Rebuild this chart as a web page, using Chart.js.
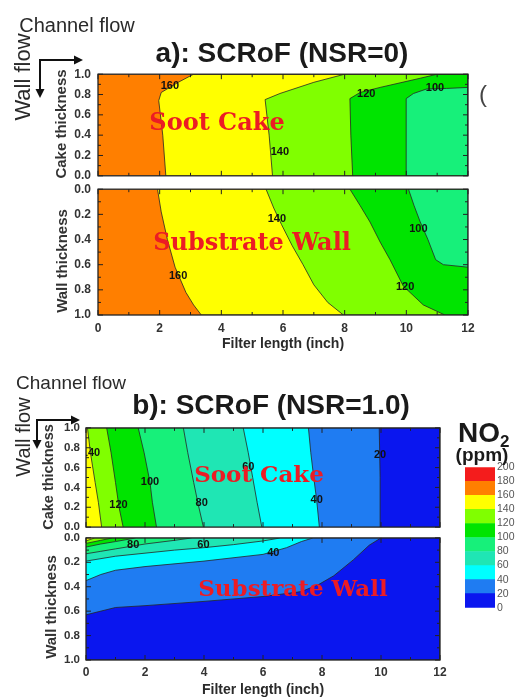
<!DOCTYPE html>
<html>
<head>
<meta charset="utf-8">
<title>SCRoF NO2 contours</title>
<script src="https://cdn.jsdelivr.net/npm/chart.js@4.4.1/dist/chart.umd.min.js"></script>
<style>
  html, body { margin:0; padding:0; background:#fff; }
  body { position:relative; width:519px; height:698px; overflow:hidden; font-family:"Liberation Sans", Arial, sans-serif; color:#1a1a1a; }
  canvas { position:absolute; }
  .abs { position:absolute; }
  .t { position:absolute; line-height:1; white-space:nowrap; transform:translate(-50%,-50%); }
  .rot { transform:translate(-50%,-50%) rotate(-90deg); }
  .ttl { font-weight:bold; font-size:28px; }
  .flow { font-size:20px; color:#2a2a2a; }
  .ytl { font-weight:bold; font-size:15px; color:#333; }
  .zone { font-family:"DejaVu Serif", serif; font-weight:bold; color:#ec1c24; }
</style>
</head>
<body>
<div id="plots"></div>

<svg class="abs" width="519" height="698" style="left:0;top:0">
  <g stroke="#111" stroke-width="2" fill="none">
    <path d="M40 90 V60 H75"/>
    <path d="M37 441 V420 H72"/>
  </g>
  <g fill="#111">
    <path d="M83 60 L74 55.5 L74 64.5Z"/>
    <path d="M40 98 L35.5 89 L44.5 89Z"/>
    <path d="M80 420 L71 415.5 L71 424.5Z"/>
    <path d="M37 449 L32.5 440 L41.5 440Z"/>
  </g>
</svg>

<div class="t flow" style="left:77px;top:25px">Channel flow</div>
<div class="t flow rot" style="left:23px;top:77px;font-size:22px">Wall flow</div>
<div class="t ttl" style="left:282px;top:53px">a): SCRoF (NSR=0)</div>
<div class="t" style="left:483px;top:94px;font-size:24px;color:#444">(</div>
<div class="t ytl rot" style="left:60px;top:124px">Cake thickness</div>
<div class="t ytl rot" style="left:61px;top:261px">Wall thickness</div>
<div class="t zone" style="left:217px;top:122px;font-size:24px">Soot Cake</div>
<div class="t zone" style="left:252px;top:242px;font-size:24px">Substrate Wall</div>

<div class="t flow" style="left:71px;top:382px;font-size:19px">Channel flow</div>
<div class="t flow rot" style="left:23px;top:437px;font-size:20px">Wall flow</div>
<div class="t ttl" style="left:271px;top:405px">b): SCRoF (NSR=1.0)</div>
<div class="t ytl rot" style="left:48px;top:477px;font-size:14.5px">Cake thickness</div>
<div class="t ytl rot" style="left:50px;top:607px">Wall thickness</div>
<div class="t zone" style="left:259px;top:473px;font-size:23px">Soot Cake</div>
<div class="t zone" style="left:293px;top:587px;font-size:23px">Substrate Wall</div>
<div class="abs" style="left:458px;top:419px;font-weight:bold;font-size:28px;line-height:1">NO<span style="font-size:17px;position:relative;top:5px">2</span></div>
<div class="t" style="left:482px;top:454px;font-weight:bold;font-size:19px">(ppm)</div>

<script>
// ========== Data ==========
// NO2 bands (ppm) and the colour of each band, low to high
const levels = [0, 20, 40, 60, 80, 100, 120, 140, 160, 180, 200];
const bandColors = ['#0a16ef', '#1f7cf2', '#00ffff', '#1fe6b4', '#17f07a', '#00e400', '#80ff00', '#ffff00', '#ff7f00', '#f41c1c'];

const xTickValues = [0, 2, 4, 6, 8, 10, 12];       // filter length (inch)
const yTickValues = [0, 0.2, 0.4, 0.6, 0.8, 1.0];  // normalised thickness

// contour lines as [filter length, thickness] pairs
// a) NSR=0, soot cake
const aCake160 = [[2.2,0],[2.1,0.4],[1.97,0.74],[2.05,0.82],[2.6,0.92],[3.1,1]];
const aCake140 = [[5.66,0],[5.55,0.4],[5.42,0.75],[5.9,0.81],[7.0,0.92],[8.0,1]];
const aCake120 = [[8.26,0],[8.2,0.4],[8.17,0.76],[8.5,0.82],[9.15,0.87],[9.8,0.915],[10.45,0.96],[11.0,1]];
const aCake100 = [[10.01,0],[10.0,0.4],[9.99,0.76],[10.23,0.81],[10.66,0.855],[11.3,0.86],[12,0.87]];
const aCakeLabels = [['160',2.33,0.88],['140',5.9,0.23],['120',8.7,0.81],['100',10.93,0.86]];

// a) NSR=0, substrate wall
const aWall160 = [[1.93,0],[2.05,0.18],[2.25,0.4],[2.5,0.62],[2.85,0.82],[3.1,0.92],[3.35,1]];
const aWall140 = [[5.45,0],[5.7,0.15],[5.95,0.28],[6.3,0.45],[6.65,0.6],[7.0,0.76],[7.45,0.9],[7.96,1]];
const aWall120 = [[8.17,0],[8.5,0.13],[8.82,0.26],[9.15,0.42],[9.47,0.56],[9.9,0.77],[10.55,0.92],[11.25,1]];
const aWall100 = [[10.07,0],[10.25,0.13],[10.45,0.26],[10.7,0.4],[10.95,0.56],[11.2,0.6],[12,0.62]];
const aWallLabels = [['140',5.8,0.24],['100',10.39,0.32],['160',2.6,0.69],['120',9.96,0.78]];

// b) NSR=1.0, soot cake
const bCake140 = [[0.53,0],[0.42,0.25],[0.31,0.45],[0.15,0.75],[0.05,1]];
const bCake120 = [[1.26,0],[1.12,0.2],[1.0,0.45],[0.85,0.75],[0.7,1]];
const bCake100 = [[2.39,0],[2.25,0.25],[2.17,0.45],[1.97,0.75],[1.77,1]];
const bCake80  = [[3.98,0],[3.81,0.22],[3.65,0.45],[3.45,0.75],[3.3,1]];
const bCake60  = [[5.96,0],[5.8,0.25],[5.65,0.5],[5.5,0.75],[5.33,1]];
const bCake40  = [[7.91,0],[7.82,0.27],[7.72,0.5],[7.62,0.75],[7.54,1]];
const bCake20  = [[9.99,0],[9.97,0.5],[9.94,1]];
const bCakeLabels = [['140',0.17,0.75],['120',1.1,0.22],['100',2.17,0.45],['80',3.92,0.24],['60',5.5,0.61],['40',7.82,0.27],['20',9.97,0.73]];

// b) NSR=1.0, substrate wall
const bWall140 = [[0,0.025],[0.3,0]];
const bWall120 = [[0,0.045],[0.5,0.02],[0.9,0]];
const bWall100 = [[0,0.075],[0.5,0.05],[1,0.03],[1.7,0]];
const bWall80  = [[0,0.13],[0.5,0.11],[1,0.09],[2,0.05],[3,0.02],[3.6,0]];
const bWall60  = [[0,0.19],[1,0.15],[2,0.125],[3,0.1],[4,0.08],[5,0.055],[6,0.025],[6.6,0]];
const bWall40  = [[0,0.35],[0.5,0.3],[1,0.265],[2,0.235],[4,0.19],[6,0.135],[6.8,0.08],[7.3,0.03],[7.7,0]];
const bWall20  = [[0,0.63],[1,0.57],[2,0.555],[4,0.52],[6,0.48],[7.3,0.44],[7.9,0.38],[8.4,0.31],[9.06,0.18],[9.6,0.06],[10,0]];
const bWallLabels = [['80',1.6,0.06],['60',3.98,0.06],['40',6.35,0.12]];

// ========== Helpers ==========
// corners used to close a contour line into a filled region
const FULL = [[0,0],[12,0],[12,1],[0,1]];
const RIGHT = [[12,1],[12,0]];
const RIGHT0 = [[12,0]];
const BELOW = [[12,0],[12,1],[0,1]];

Chart.defaults.font.family = '"Liberation Sans", Arial, sans-serif';
Chart.defaults.color = '#333';

// frame with inward ticks + contour value labels
const frame = {
  id: 'frame',
  afterDatasetsDraw(chart, args, opts) {
    const {ctx, chartArea: a, scales: {x, y}} = chart;
    ctx.save();
    ctx.beginPath(); ctx.rect(a.left, a.top, a.width, a.height); ctx.clip();
    ctx.font = 'bold 11px "Liberation Sans", Arial, sans-serif';
    ctx.fillStyle = '#111'; ctx.textAlign = 'center'; ctx.textBaseline = 'middle';
    (opts.labels || []).forEach(l => ctx.fillText(l[0], x.getPixelForValue(l[1]), y.getPixelForValue(l[2])));
    ctx.restore();

    ctx.save();
    ctx.strokeStyle = '#222';
    ctx.lineWidth = 1.3;
    ctx.strokeRect(a.left, a.top, a.width, a.height);
    ctx.lineWidth = 1;
    ctx.beginPath();
    for (let v = 0; v <= 12; v++) {
      const px = x.getPixelForValue(v), len = v % 2 ? 3 : 5;
      ctx.moveTo(px, a.top); ctx.lineTo(px, a.top + len);
      ctx.moveTo(px, a.bottom); ctx.lineTo(px, a.bottom - len);
    }
    for (let i = 0; i <= 10; i++) {
      const py = y.getPixelForValue(i / 10), len = i % 2 ? 3 : 5;
      ctx.moveTo(a.left, py); ctx.lineTo(a.left + len, py);
      ctx.moveTo(a.right, py); ctx.lineTo(a.right - len, py);
    }
    ctx.stroke();
    ctx.restore();
  }
};

function plot(box, area, bg, bands, labels, opt) {
  const cv = document.createElement('canvas');
  cv.width = box.w; cv.height = box.h;
  cv.style.left = box.x + 'px'; cv.style.top = box.y + 'px';
  document.getElementById('plots').appendChild(cv);

  const polys = [{pts: FULL, color: bandColors[bg]}].concat(
    bands.map(([line, band, close]) => ({pts: line.concat(close), color: bandColors[band]})));

  return new Chart(cv, {
    type: 'scatter',
    data: { datasets: polys.map((p, i) => ({
      data: p.pts.map(([x, y]) => ({x, y})),
      showLine: true, fill: 'shape', tension: 0,
      backgroundColor: p.color,
      borderColor: i ? '#262626' : 'rgba(0,0,0,0)', borderWidth: 0.8,
      pointRadius: 0, pointHoverRadius: 0,
      order: polys.length - i
    })) },
    options: {
      responsive: false, animation: false, events: [],
      layout: { autoPadding: false, padding: { top: area.t - box.y, right: box.x + box.w - area.r, left: 0, bottom: 0 } },
      plugins: { legend: {display: false}, tooltip: {enabled: false}, frame: { labels } },
      scales: {
        x: {
          min: 0, max: 12,
          afterBuildTicks: s => { s.ticks = xTickValues.map(v => ({value: v})); },
          grid: {display: false, drawTicks: false}, border: {display: false},
          ticks: { display: opt.showX, padding: opt.xPad || 0, autoSkip: false, font: {size: 12, weight: 'bold'}, color: '#333' },
          title: { display: opt.showX, text: 'Filter length (inch)', padding: 0, font: {size: 14, weight: 'bold'}, color: '#2a2a2a' },
          afterFit: s => { s.height = box.y + box.h - area.b; }
        },
        y: {
          min: 0, max: 1, reverse: !!opt.reverse,
          afterBuildTicks: s => { s.ticks = yTickValues.map(v => ({value: v})); },
          grid: {display: false, drawTicks: false}, border: {display: false},
          ticks: { padding: opt.yPad, autoSkip: false, font: {size: opt.yFont, weight: 'bold'}, color: '#333', callback: v => v.toFixed(1) },
          afterFit: s => { s.width = area.l - box.x; }
        }
      }
    },
    plugins: [frame]
  });
}

// ========== Charts ==========
plot({x:0, y:60, w:519, h:130}, {l:98, t:69, r:468, b:178}, 8,
  [[aCake160, 7, RIGHT], [aCake140, 6, RIGHT], [aCake120, 5, RIGHT], [aCake100, 4, RIGHT0]],
  aCakeLabels, {showX: false, yPad: 7, yFont: 12});

plot({x:0, y:175, w:519, h:178}, {l:98, t:185, r:468, b:315}, 8,
  [[aWall160, 7, RIGHT], [aWall140, 6, RIGHT], [aWall120, 5, RIGHT], [aWall100, 4, RIGHT0]],
  aWallLabels, {showX: true, xPad: 6, yPad: 7, yFont: 12, reverse: true});

plot({x:0, y:415, w:460, h:125}, {l:86, t:424, r:440, b:528}, 7,
  [[bCake140, 6, RIGHT], [bCake120, 5, RIGHT], [bCake100, 4, RIGHT], [bCake80, 3, RIGHT],
   [bCake60, 2, RIGHT], [bCake40, 1, RIGHT], [bCake20, 0, RIGHT]],
  bCakeLabels, {showX: false, yPad: 6, yFont: 11.5});

plot({x:0, y:525, w:460, h:174}, {l:86, t:534, r:440, b:660}, 7,
  [[bWall140, 6, BELOW], [bWall120, 5, BELOW], [bWall100, 4, BELOW], [bWall80, 3, BELOW],
   [bWall60, 2, BELOW], [bWall40, 1, BELOW], [bWall20, 0, BELOW]],
  bWallLabels, {showX: true, xPad: 5, yPad: 6, yFont: 11.5, reverse: true});

// colour bar: one stacked bar, a segment per band
const cb = document.createElement('canvas');
cb.width = 54; cb.height = 157;
cb.style.left = '465px'; cb.style.top = '459px';
document.getElementById('plots').appendChild(cb);
new Chart(cb, {
  type: 'bar',
  data: { labels: [''], datasets: bandColors.map((c, i) => ({
    data: [levels[i + 1] - levels[i]], backgroundColor: c, borderWidth: 0,
    barPercentage: 1, categoryPercentage: 1
  })) },
  options: {
    responsive: false, animation: false, events: [],
    layout: { autoPadding: false, padding: {top: 7, bottom: 7, left: 0, right: 0} },
    plugins: { legend: {display: false}, tooltip: {enabled: false} },
    scales: {
      x: { display: false, stacked: true },
      y: {
        stacked: true, position: 'right', min: 0, max: 200,
        afterBuildTicks: s => { s.ticks = levels.map(v => ({value: v})); },
        grid: {display: false, drawTicks: false}, border: {display: false},
        ticks: { padding: 2, autoSkip: false, font: {size: 10.5}, color: '#555' },
        afterFit: s => { s.width = 24; }
      }
    }
  }
});
</script>
</body>
</html>
